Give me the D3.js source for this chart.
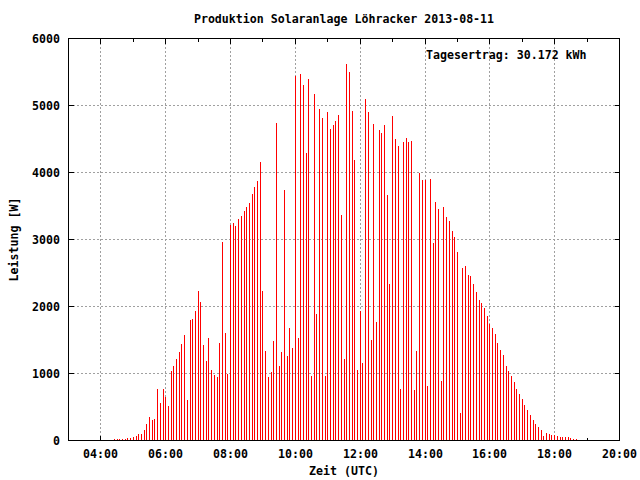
<!DOCTYPE html>
<html>
<head>
<meta charset="utf-8">
<script src="https://cdn.jsdelivr.net/npm/d3@7"></script>
<style>
  html, body { margin: 0; padding: 0; background: #fff; }
  svg { display: block; }
  text { font-family: "DejaVu Sans Mono", "Liberation Mono", monospace; font-weight: bold; font-size: 11.6px; fill: #000; }
</style>
</head>
<body>
<svg id="chart" width="640" height="480"></svg>
<script>
// ---- data ----
const title = "Produktion Solaranlage Löhracker 2013-08-11";
const dayLabel = "Tagesertrag: 30.172 kWh";
const xLabel = "Zeit (UTC)";
const yLabel = "Leistung [W]";
const day = "2013-08-11";
const xDomain = ["03:00", "20:00"];
const xMajorTicks = ["04:00","06:00","08:00","10:00","12:00","14:00","16:00","18:00","20:00"];
const xMinorTicks = ["05:00","07:00","09:00","11:00","13:00","15:00","17:00","19:00"];
const yTicks = [0, 1000, 2000, 3000, 4000, 5000, 6000];

const times = [
  "04:25","04:30","04:35","04:40","04:45","04:50","04:55",
  "05:00","05:05","05:10","05:15","05:20","05:25","05:30","05:35","05:40","05:45","05:50","05:55",
  "06:00","06:05","06:10","06:15","06:20","06:25","06:30","06:35","06:40","06:45","06:50","06:55",
  "07:00","07:05","07:10","07:15","07:20","07:25","07:30","07:35","07:40","07:45","07:50","07:55",
  "08:00","08:05","08:10","08:15","08:20","08:25","08:30","08:35","08:40","08:45","08:50","08:55",
  "09:00","09:05","09:10","09:15","09:20","09:25","09:30","09:35","09:40","09:45","09:50","09:55",
  "10:00","10:05","10:10","10:15","10:20","10:25","10:30","10:35","10:40","10:45","10:50","10:55",
  "11:00","11:05","11:10","11:15","11:20","11:25","11:30","11:35","11:40","11:45","11:50","11:55",
  "12:00","12:05","12:10","12:15","12:20","12:25","12:30","12:35","12:40","12:45","12:50","12:55",
  "13:00","13:05","13:10","13:15","13:20","13:25","13:30","13:35","13:40","13:45","13:50","13:55",
  "14:00","14:05","14:10","14:15","14:20","14:25","14:30","14:35","14:40","14:45","14:50","14:55",
  "15:00","15:05","15:10","15:15","15:20","15:25","15:30","15:35","15:40","15:45","15:50","15:55",
  "16:00","16:05","16:10","16:15","16:20","16:25","16:30","16:35","16:40","16:45","16:50","16:55",
  "17:00","17:05","17:10","17:15","17:20","17:25","17:30","17:35","17:40","17:45","17:50","17:55",
  "18:00","18:05","18:10","18:15","18:20","18:25","18:30","18:35","18:40"
];

const power = [
  15, 15, 15, 15, 15, 30, 30,
  45, 60, 90, 90, 150, 240, 345, 300, 315, 765, 555, 765,
  645, 510, 1035, 1110, 1215, 1320, 1440, 1575, 600, 1800, 1815, 1935,
  2235, 2070, 1425, 1185, 1530, 1050, 975, 945, 1455, 2970, 1605, 990,
  3210, 3240, 3195, 3300, 3345, 3420, 3480, 3540, 3675, 3780, 3870, 4155,
  2235, 1335, 945, 1020, 1485, 4740, 1110, 1320, 3735, 1260, 1680, 1380,
  5445, 1530, 5475, 5310, 4290, 5400, 960, 5175, 1890, 4950, 4815, 960,
  4905, 4650, 4710, 4770, 4860, 3360, 1215, 5625, 5505, 4920, 4185, 1050,
  1935, 1155, 5100, 4905, 1500, 4725, 1770, 4635, 4590, 4710, 3660, 2340,
  4845, 4500, 4395, 765, 4455, 4515, 4455, 4470, 750, 1335, 3990, 3885,
  3885, 810, 3900, 2955, 3555, 3450, 885, 3480, 3330, 3270, 3120, 3030,
  2820, 405, 2580, 2610, 2475, 2460, 2340, 2220, 2100, 2055, 1980, 1860,
  1740, 1680, 1590, 1455, 1350, 1275, 1110, 1035, 960, 870, 765, 690,
  615, 525, 450, 375, 300, 240, 195, 150, 60, 105, 90, 75,
  75, 60, 45, 45, 45, 45, 30, 15, 15
];

// ---- drawing ----
const parse = d3.utcParse("%Y-%m-%d %H:%M");
const T = s => parse(day + " " + s);
const fmt = d3.utcFormat("%H:%M");

const L = 68.5, R = 619.5, Tp = 38.5, B = 440.5;
const x = d3.scaleUtc().domain(xDomain.map(T)).range([L, R]);
const y = d3.scaleLinear().domain([0, 6000]).range([B, Tp]);
const px = v => Math.floor(x(v)) + 0.5;

const svg = d3.select("#chart");
const g = svg.append("g").attr("shape-rendering", "crispEdges");

// grid
const gridColor = "#a0a0a0";
g.selectAll("line.gx").data(xMajorTicks.slice(0, -1)).enter().append("line")
  .attr("x1", d => px(T(d))).attr("x2", d => px(T(d)))
  .attr("y1", Tp).attr("y2", B)
  .attr("stroke", gridColor).attr("stroke-dasharray", "2,2");
g.selectAll("line.gy").data(yTicks.slice(1, -1)).enter().append("line")
  .attr("x1", L).attr("x2", R)
  .attr("y1", d => y(d)).attr("y2", d => y(d))
  .attr("stroke", gridColor).attr("stroke-dasharray", "2,2");

// ticks (inward, mirrored)
const tickG = g.append("g").attr("stroke", "#000");
xMajorTicks.forEach(d => {
  const xx = px(T(d));
  tickG.append("line").attr("x1", xx).attr("x2", xx).attr("y1", B).attr("y2", B - 5);
  tickG.append("line").attr("x1", xx).attr("x2", xx).attr("y1", Tp).attr("y2", Tp + 5);
});
xMinorTicks.forEach(d => {
  const xx = px(T(d));
  tickG.append("line").attr("x1", xx).attr("x2", xx).attr("y1", B).attr("y2", B - 3);
  tickG.append("line").attr("x1", xx).attr("x2", xx).attr("y1", Tp).attr("y2", Tp + 3);
});
yTicks.forEach(d => {
  tickG.append("line").attr("x1", L).attr("x2", L + 5).attr("y1", y(d)).attr("y2", y(d));
  tickG.append("line").attr("x1", R).attr("x2", R - 5).attr("y1", y(d)).attr("y2", y(d));
});

// impulses
const data = times.map((t, i) => ({ t: T(t), v: power[i] }));
g.selectAll("rect.bar").data(data).enter().append("rect")
  .attr("x", d => Math.floor(x(d.t)))
  .attr("width", 1)
  .attr("y", d => Math.round(y(d.v)))
  .attr("height", d => Math.max(0, Math.floor(B) - Math.round(y(d.v))))
  .attr("fill", "#ff0000");

// border
g.append("rect").attr("x", L).attr("y", Tp).attr("width", R - L).attr("height", B - Tp)
  .attr("fill", "none").attr("stroke", "#000");

// tick labels
svg.selectAll("text.xt").data(xMajorTicks).enter().append("text")
  .attr("x", d => px(T(d))).attr("y", 458)
  .attr("text-anchor", "middle").text(d => fmt(T(d)));
svg.selectAll("text.yt").data(yTicks).enter().append("text")
  .attr("x", 60).attr("y", d => y(d) + 4)
  .attr("text-anchor", "end").text(d => d);

// titles
svg.append("text").attr("x", (L + R) / 2).attr("y", 23).attr("text-anchor", "middle").text(title);
svg.append("text").attr("x", (L + R) / 2).attr("y", 475).attr("text-anchor", "middle").text(xLabel);
svg.append("text").attr("transform", `translate(18,${(Tp + B) / 2}) rotate(-90)`)
  .attr("text-anchor", "middle").text(yLabel);
svg.append("text").attr("x", 426).attr("y", 59).text(dayLabel);
</script>
</body>
</html>
